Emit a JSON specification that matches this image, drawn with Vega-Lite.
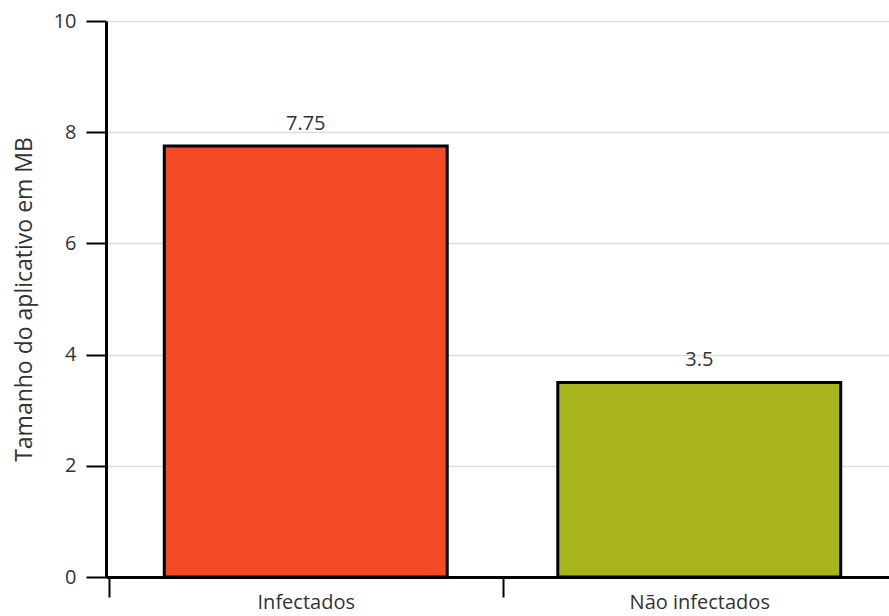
{
  "$schema": "https://vega.github.io/schema/vega-lite/v6.json",
  "width": 783,
  "height": 556,
  "autosize": {"type": "none"},
  "padding": {"left": 106, "top": 21, "right": 0, "bottom": 39},
  "background": "white",
  "config": {
    "view": {"stroke": null},
    "font": "Open Sans"
  },
  "data": {
    "values": [
      {"grupo": "Infectados", "tamanho": 7.75, "cor": "#F44A26"},
      {"grupo": "Não infectados", "tamanho": 3.5, "cor": "#A8B41D"}
    ]
  },
  "encoding": {
    "x": {
      "field": "grupo",
      "type": "nominal",
      "sort": null,
      "scale": {"paddingInner": 0, "paddingOuter": 0.0076, "range": [0, 793]},
      "axis": {
        "title": null,
        "labelAngle": 0,
        "labelFont": "Open Sans",
        "labelFontSize": 20,
        "labelColor": "#333333",
        "labelPadding": -5,
        "domainColor": "#000000",
        "domainWidth": 3,
        "tickColor": "#000000",
        "tickWidth": 2,
        "tickSize": 20,
        "tickBand": "extent",
        "grid": false
      }
    },
    "y": {
      "field": "tamanho",
      "type": "quantitative",
      "scale": {"domain": [0, 10], "nice": false},
      "axis": {
        "title": "Tamanho do aplicativo em MB",
        "titleFont": "Open Sans",
        "titleFontSize": 23,
        "titleFontWeight": "normal",
        "titleColor": "#333333",
        "titlePadding": 17,
        "values": [0, 2, 4, 6, 8, 10],
        "labelFont": "Open Sans",
        "labelFontSize": 20,
        "labelColor": "#333333",
        "labelPadding": 10,
        "domainColor": "#000000",
        "domainWidth": 3,
        "tickColor": "#000000",
        "tickWidth": 2,
        "tickSize": 20,
        "grid": true,
        "gridColor": "#dddddd",
        "gridWidth": 1.5
      }
    }
  },
  "layer": [
    {
      "mark": {"type": "bar", "stroke": "#000000", "strokeWidth": 3, "width": {"band": 0.719}},
      "encoding": {
        "fill": {"field": "cor", "type": "nominal", "scale": null}
      }
    },
    {
      "mark": {"type": "text", "baseline": "alphabetic", "dy": -16, "fontSize": 20, "font": "Open Sans", "color": "#333333"},
      "encoding": {
        "text": {"field": "tamanho", "type": "quantitative"}
      }
    }
  ]
}
